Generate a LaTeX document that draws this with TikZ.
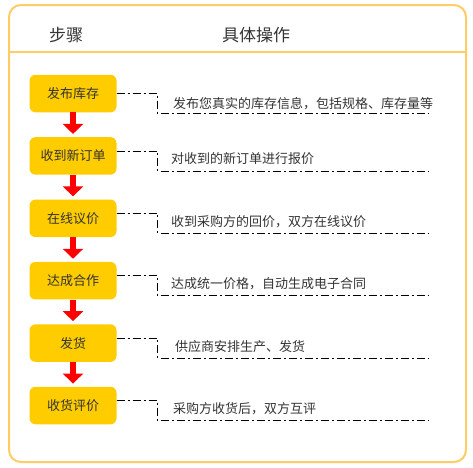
\documentclass[tikz,border=0pt]{standalone}
\usepackage{fontspec}
\setmainfont{Noto Sans CJK SC}
\usepackage{xcolor}
\usepackage{tikz}
\usetikzlibrary{arrows.meta, positioning}
\definecolor{framegold}{RGB}{255, 204, 102}
\definecolor{stepgold}{RGB}{255, 204, 0}
\definecolor{darktext}{RGB}{51, 51, 51}

\begin{document}
\begin{tikzpicture}[x=1pt, y=-1pt, node distance=24.5pt,
  stepbox/.style={rectangle, fill=stepgold, rounded corners=6pt, minimum width=87pt, minimum height=37.5pt, text=darktext, font=\fontsize{13}{15}\selectfont},
  note/.style={anchor=west, text=darktext, font=\fontsize{13}{15}\selectfont},
  title/.style={text=darktext, font=\fontsize{17}{20}\selectfont},
  flow/.style={draw=red, line width=6pt, -{Triangle[width=20pt, length=10pt]}, shorten >=3pt},
  link/.style={draw=black, line width=0.8pt, dash pattern=on 8pt off 3pt on 2pt off 3pt}]
  \useasboundingbox (0,0) rectangle (473,467);

  % frame and header
  \draw[framegold, line width=2pt, rounded corners=12pt] (9,5) rectangle (466,462);
  \draw[framegold, line width=2pt] (9,52) -- (466,52);
  \node[title] (steptitle) at (66,35) {步骤};
  \node[title] (optitle) at (256,35) {具体操作};

  % steps
  \node [stepbox] at (73,93.5) (publish) {发布库存};
  \node [stepbox, below=of publish] (quote) {收到新订单};
  \node [stepbox, below=of quote] (negotiate) {在线议价};
  \node [stepbox, below=of negotiate] (deal) {达成合作};
  \node [stepbox, below=of deal] (ship) {发货};
  \node [stepbox, below=of ship] (review) {收货评价};

  \draw[flow] (publish.south) -- (quote.north);
  \draw[flow] (quote.south) -- (negotiate.north);
  \draw[flow] (negotiate.south) -- (deal.north);
  \draw[flow] (deal.south) -- (ship.north);
  \draw[flow] (ship.south) -- (review.north);

  % details
  \node [note] at ([xshift=53pt, yshift=-10pt]publish.east) (publishnote) {发布您真实的库存信息，包括规格、库存量等};
  \node [note] at ([xshift=51pt, yshift=-3pt]quote.east) (quotenote) {对收到的新订单进行报价};
  \node [note] at ([xshift=51pt, yshift=-3pt]negotiate.east) (negotiatenote) {收到采购方的回价，双方在线议价};
  \node [note] at ([xshift=51pt, yshift=-3pt]deal.east) (dealnote) {达成统一价格，自动生成电子合同};
  \node [note] at ([xshift=55pt, yshift=-3pt]ship.east) (shipnote) {供应商安排生产、发货};
  \node [note] at ([xshift=53pt, yshift=-3pt]review.east) (reviewnote) {采购方收货后，双方互评};

  \foreach \s/\d in {publish/0, quote/5, negotiate/5, deal/5, ship/5, review/5}
    \draw[link] ([yshift=\d pt]\s.east) -- ++(41,0) coordinate (\s bend) -- ++(0,20) -- ++(271,0) coordinate (\s end);

\end{tikzpicture}
\end{document}
